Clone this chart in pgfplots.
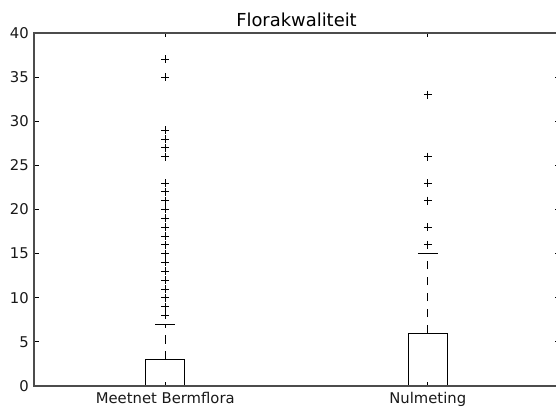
\documentclass[border=0pt]{standalone}
\usepackage{fontspec}
\setmainfont{DejaVu Sans}
\usepackage{pgfplots}
\pgfplotsset{compat=1.18}
\usepgfplotslibrary{statistics}

\begin{document}
\begin{tikzpicture}
\begin{axis}[
  scale only axis,
  width=525pt, height=353pt,
  xmin=0.5, xmax=2.5, ymin=0, ymax=40,
  xtick={1,2},
  xticklabels={Meetnet Bermflora, Nulmeting},
  ytick={0,5,...,40},
  /pgf/number format/assume math mode=true,
  tick align=inside,
  major tick length=4.5pt,
  tick style={black, line width=0.8pt},
  axis line style={black!70, line width=1.3pt},
  axis on top,
  title=Florakwaliteit,
  every axis title shift/.style={yshift=0pt},
  title style={font=\fontsize{17.9}{21}\selectfont, at={(0.5,1)}, anchor=base, yshift=0pt},
  tick label style={font=\fontsize{14.8}{17}\selectfont, black!90},
  yticklabel style={inner sep=0pt, xshift=-5pt},
  xticklabel style={inner sep=0pt, anchor=north, yshift=-6.3pt},
  boxplot/draw direction=y,
  boxplot/box extend=0.15,
  boxplot/whisker extend=0.075,
  % #1 = quartile, #2 = whisker end: dashed stem, solid cap
  boxplot/draw/whisker/.code 2 args={
    \draw[dash pattern=on 8.3pt off 7.7pt]
      (boxplot box cs:#1,0.5) -- (boxplot box cs:#2,0.5);
    \draw[solid] (boxplot whisker cs:#2,0) -- (boxplot whisker cs:#2,1);
  },
]
% Meetnet Bermflora
\addplot+[
  black, line width=1pt, solid,
  mark=+, mark size=4pt,
  mark options={black, line width=0.7pt, solid},
  boxplot prepared={
    draw position=1,
    lower whisker=0, lower quartile=0, median=0,
    upper quartile=3, upper whisker=7,
  },
] coordinates {
  (0,8) (0,9) (0,10) (0,11) (0,12) (0,13) (0,14) (0,15)
  (0,16) (0,17) (0,18) (0,19) (0,20) (0,21) (0,22) (0,23)
  (0,26) (0,27) (0,28) (0,29) (0,35) (0,37)
};
% Nulmeting
\addplot+[
  black, line width=1pt, solid,
  mark=+, mark size=4pt,
  mark options={black, line width=0.7pt, solid},
  boxplot prepared={
    draw position=2,
    lower whisker=0, lower quartile=0, median=0,
    upper quartile=6, upper whisker=15,
  },
] coordinates {
  (0,16) (0,18) (0,21) (0,23) (0,26) (0,33)
};
\end{axis}
\pgfresetboundingbox
\useasboundingbox ([shift={(-34pt,-23pt)}]current axis.south west)
  rectangle ([shift={(522pt,386pt)}]current axis.south west);
\end{tikzpicture}
\end{document}
